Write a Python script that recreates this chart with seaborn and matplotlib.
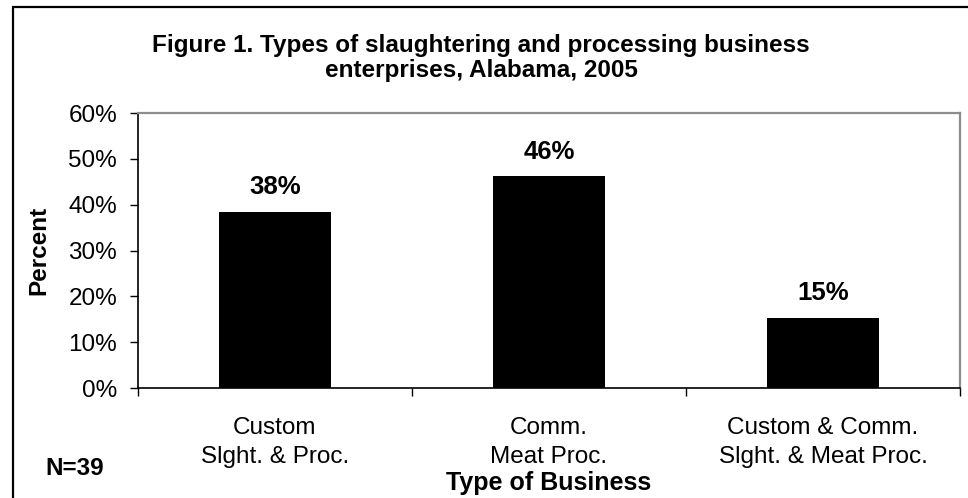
import matplotlib
matplotlib.use("Agg")
import matplotlib.pyplot as plt
from matplotlib.patches import Rectangle
import seaborn as sns
import pandas as pd

# Share of business types (N=39 firms)
categories = ["Custom\nSlght. & Proc.", "Comm.\nMeat Proc.", "Custom & Comm.\nSlght. & Meat Proc."]
percent = [38.46, 46.15, 15.38]
y_ticks = [0, 10, 20, 30, 40, 50, 60]
y_tick_labels = ["0%", "10%", "20%", "30%", "40%", "50%", "60%"]

sns.set_theme(style="white")
plt.rcParams["font.family"] = ["Liberation Sans", "DejaVu Sans"]

W, H = 968, 498
fig = plt.figure(figsize=(W / 100, H / 100), dpi=100)
ax = fig.add_axes([138 / W, 1 - 388 / H, (960 - 138) / W, (388 - 113) / H])

df = pd.DataFrame({"business": categories, "percent": percent})
sns.barplot(data=df, x="business", y="percent", color="black", width=0.41,
            saturation=1, edgecolor="black", linewidth=0, ax=ax)

ax.set_xlim(-0.5, 2.5)
ax.set_ylim(0, 60)
ax.set_yticks(y_ticks)
ax.set_yticklabels(y_tick_labels, fontsize=17.5, color="black")
ax.tick_params(axis="y", which="major", direction="out", length=6, width=1,
               color="black", pad=9, left=True)

# category labels centred, tick marks at category boundaries
ax.set_xticks(range(len(categories)))
ax.set_xticklabels(categories, fontsize=17.5, color="black", linespacing=1.4)
ax.tick_params(axis="x", which="major", length=0, pad=21)
ax.set_xticks([-0.5, 0.5, 1.5, 2.5], minor=True)
ax.tick_params(axis="x", which="minor", direction="out", length=6, width=1,
               color="black", bottom=True)

for side in ["left", "bottom"]:
    ax.spines[side].set_color("black")
    ax.spines[side].set_linewidth(1.2)
for side in ["top", "right"]:
    ax.spines[side].set_visible(True)
    ax.spines[side].set_color("#8c8c8c")
    ax.spines[side].set_linewidth(1.6)

ax.bar_label(ax.containers[0], fmt="{:.0f}%", padding=9, fontsize=18.5,
             fontweight="bold", color="black")

ax.set_ylabel("Percent", fontsize=17.5, fontweight="bold", color="black", labelpad=13)
ax.set_xlabel("")

fig.text(481 / W, 1 - 58 / H,
         "Figure 1. Types of slaughtering and processing business\nenterprises, Alabama, 2005",
         ha="center", va="center", fontsize=17.5, fontweight="bold",
         linespacing=1.12, color="black")

fig.text(549 / W, 3 / H, "Type of Business", ha="center", va="bottom",
         fontsize=18, fontweight="bold", color="black")
fig.text(45 / W, 1 - 468 / H, "N=39", ha="left", va="center",
         fontsize=17.5, fontweight="bold", color="black")

# outer chart frame
fig.patches.append(Rectangle((13 / W, -0.05), 1.2, 1 - 7 / H + 0.05,
                             transform=fig.transFigure, fill=False,
                             edgecolor="black", linewidth=1.6))

fig.savefig("out.png", dpi=100, facecolor="white")
